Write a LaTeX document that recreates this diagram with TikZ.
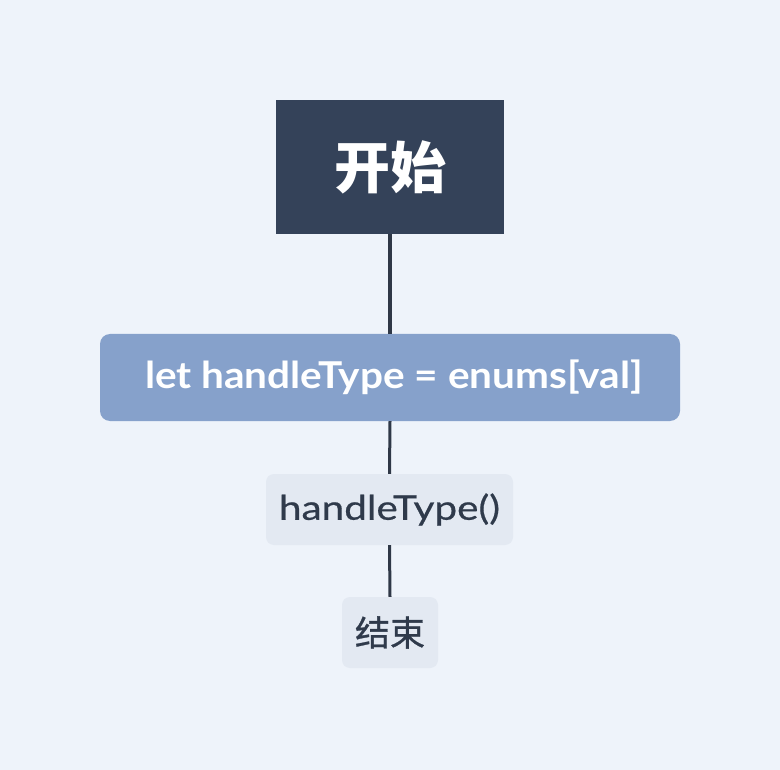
\documentclass[tikz,border=0pt]{standalone}
\usepackage{fontspec}
\setmainfont{Lato}
\newfontfamily\boldwide[FakeStretch=1.095]{Lato Bold}
\newfontfamily\regwide[FakeStretch=1.19,FakeBold=0.6]{Lato}
\newfontfamily\cjk{Noto Sans CJK SC}
\newfontfamily\cjkmed[FakeBold=0.8]{Noto Sans CJK SC}
\definecolor{bg}{HTML}{EEF3FA}
\definecolor{rootfill}{HTML}{344259}
\definecolor{mainfill}{HTML}{86A1CB}
\definecolor{subfill}{HTML}{E3E9F2}
\definecolor{linec}{HTML}{2F3847}
\definecolor{subtext}{HTML}{2F3A4B}
\begin{document}
\begin{tikzpicture}[x=1pt,y=-1pt,
  rootbox/.style={fill=rootfill,inner sep=0pt,minimum width=228pt,minimum height=134pt,text=white},
  mainbox/.style={fill=mainfill,rounded corners=10pt,inner sep=0pt,minimum width=580pt,minimum height=87pt,text=white},
  subbox/.style={fill=subfill,rounded corners=8pt,inner sep=0pt,minimum height=71pt,text=subtext},
  conn/.style={draw=linec}]
\fill[bg] (0,0) rectangle (780,770);
\useasboundingbox (0,0) rectangle (780,770);
\node[rootbox] (root) at (390,167) {\cjk\fontsize{56}{60}\selectfont\bfseries 开始};
\node[mainbox] (let) at (390,377.5) {\hspace*{8pt}\boldwide\fontsize{37}{42}\selectfont let handleType = enums[val]};
\node[subbox,minimum width=247pt] (call) at (389.5,509.5) {\regwide\fontsize{34}{40}\selectfont handleType()};
\node[subbox,minimum width=96pt] (end) at (390,632.5) {\cjkmed\fontsize{35}{40}\selectfont 结束};
\draw[conn,line width=4pt] (root.south) -- (let.north);
\draw[conn,line width=3pt] (let.south) -- (call.north);
\draw[conn,line width=3pt] (call.south) -- (end.north);
\end{tikzpicture}
\end{document}
